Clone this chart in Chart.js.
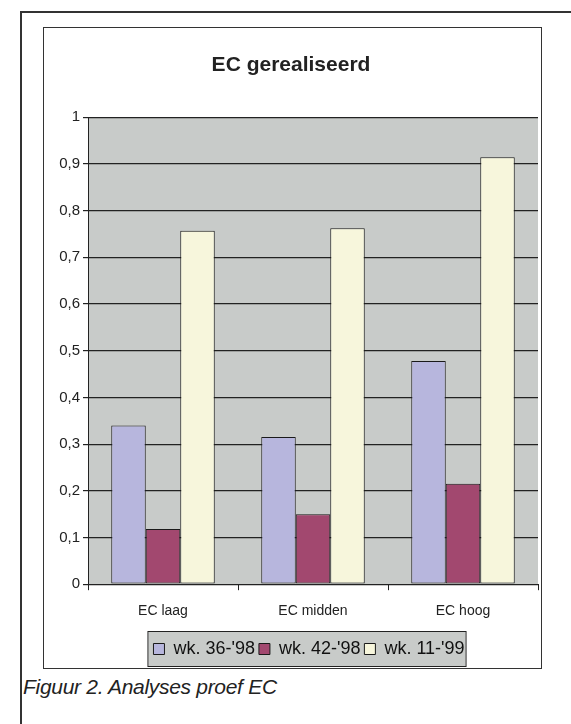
<!DOCTYPE html>
<html>
<head>
<meta charset="utf-8">
<script src="https://cdn.jsdelivr.net/npm/chart.js@4.4.1/dist/chart.umd.min.js"></script>
<style>
  body { margin: 0; background: #fff; width: 571px; height: 724px; overflow: hidden; position: relative; font-family: "Liberation Sans", Arial, sans-serif; }
  #outer { position: absolute; left: 20px; top: 11px; width: 600px; height: 800px; border: 2px solid #333; }
  #frame { position: absolute; left: 43px; top: 27px; width: 497px; height: 640px; border: 1px solid #333; }
  #chartTension { position: absolute; left: 21px; top: 28px; }
  #caption { position: absolute; left: 23px; top: 675px; font-style: italic; font-size: 21px; color: #222; letter-spacing: -0.3px; }
</style>
</head>
<body>
<div id="outer"></div>
<div id="frame"></div>
<canvas id="chartTension" width="520" height="640"></canvas>
<div id="caption">Figuur 2. Analyses proef EC</div>
<script>
const categories = ["EC laag", "EC midden", "EC hoog"];
const seriesNames = ["wk. 36-'98", "wk. 42-'98", "wk. 11-'99"];
const wk36_98 = [0.34, 0.315, 0.478];
const wk42_98 = [0.118, 0.15, 0.215];
const wk11_99 = [0.757, 0.762, 0.914];
const yMin = 0;
const yMax = 1;
const yStep = 0.1;

// excel-ish plot background + grey legend box
const backdrop = {
    id: "backdrop",
    afterLayout(chart) {
        // legend sits a bit right of centre in the original
        chart.legend.left += 18;
        chart.legend.right += 18;
    },
    beforeDraw(chart) {
        const ctx = chart.ctx;
        const a = chart.chartArea;
        ctx.save();
        ctx.fillStyle = "#c8cbc9";
        ctx.fillRect(a.left, a.top, a.right - a.left, a.bottom - a.top);
        const boxes = chart.legend.legendHitBoxes;
        if (boxes && boxes.length) {
            let l = Infinity, r = -Infinity, t = Infinity, b = -Infinity;
            boxes.forEach((h) => {
                l = Math.min(l, h.left);
                r = Math.max(r, h.left + h.width);
                t = Math.min(t, h.top);
                b = Math.max(b, h.top + h.height);
            });
            ctx.fillStyle = "#c8cbc9";
            ctx.strokeStyle = "#222";
            ctx.lineWidth = 1;
            ctx.fillRect(l - 5, t - 8, r - l + 6, b - t + 16);
            ctx.strokeRect(l - 5.5, t - 8.5, r - l + 7, b - t + 17);
        }
        ctx.restore();
    },
};

const data = {
    labels: categories,
    datasets: [
        { label: seriesNames[0], data: wk36_98, backgroundColor: "#b7b6dd" },
        { label: seriesNames[1], data: wk42_98, backgroundColor: "#a2486f" },
        { label: seriesNames[2], data: wk11_99, backgroundColor: "#f7f6dc" },
    ].map((d) => ({
        ...d,
        borderColor: "#1a1a1a",
        borderWidth: 1,
        borderSkipped: false,
        categoryPercentage: 0.69,
        barPercentage: 1,
    })),
};

const config = {
    type: "bar",
    data: data,
    plugins: [backdrop],
    options: {
        responsive: false,
        animation: false,
        devicePixelRatio: 1,
        layout: { padding: { left: 23, right: 3, top: 0, bottom: 0 } },
        plugins: {
            title: {
                display: true,
                text: "EC gerealiseerd",
                color: "#222",
                font: { family: "Liberation Sans", size: 21, weight: "bold" },
                padding: { top: 25, bottom: 39 },
            },
            legend: {
                position: "bottom",
                labels: {
                    color: "#111",
                    font: { family: "Liberation Sans", size: 18 },
                    boxWidth: 11,
                    boxHeight: 11,
                    padding: 4,
                },
            },
            tooltip: { enabled: false },
        },
        scales: {
            x: {
                afterFit(scale) {
                    scale.height += 3;
                },
                grid: { display: true, drawOnChartArea: false, color: "#222", tickLength: 6, offset: true },
                border: { color: "#222", width: 1 },
                ticks: { color: "#222", font: { family: "Liberation Sans", size: 14 }, padding: 13 },
            },
            y: {
                min: yMin,
                max: yMax,
                afterFit(scale) {
                    scale.width = 44;
                },
                grid: { color: "#222", lineWidth: 1.2, tickLength: 5 },
                border: { color: "#222", width: 1 },
                ticks: {
                    stepSize: yStep,
                    color: "#222",
                    padding: 3,
                    font: { family: "Liberation Sans", size: 15 },
                    callback: (v) => (Math.abs(v - Math.round(v)) < 1e-9 ? String(Math.round(v)) : v.toFixed(1).replace(".", ",")),
                },
            },
        },
    },
};

new Chart(document.getElementById("chartTension"), config);
</script>
</body>
</html>
